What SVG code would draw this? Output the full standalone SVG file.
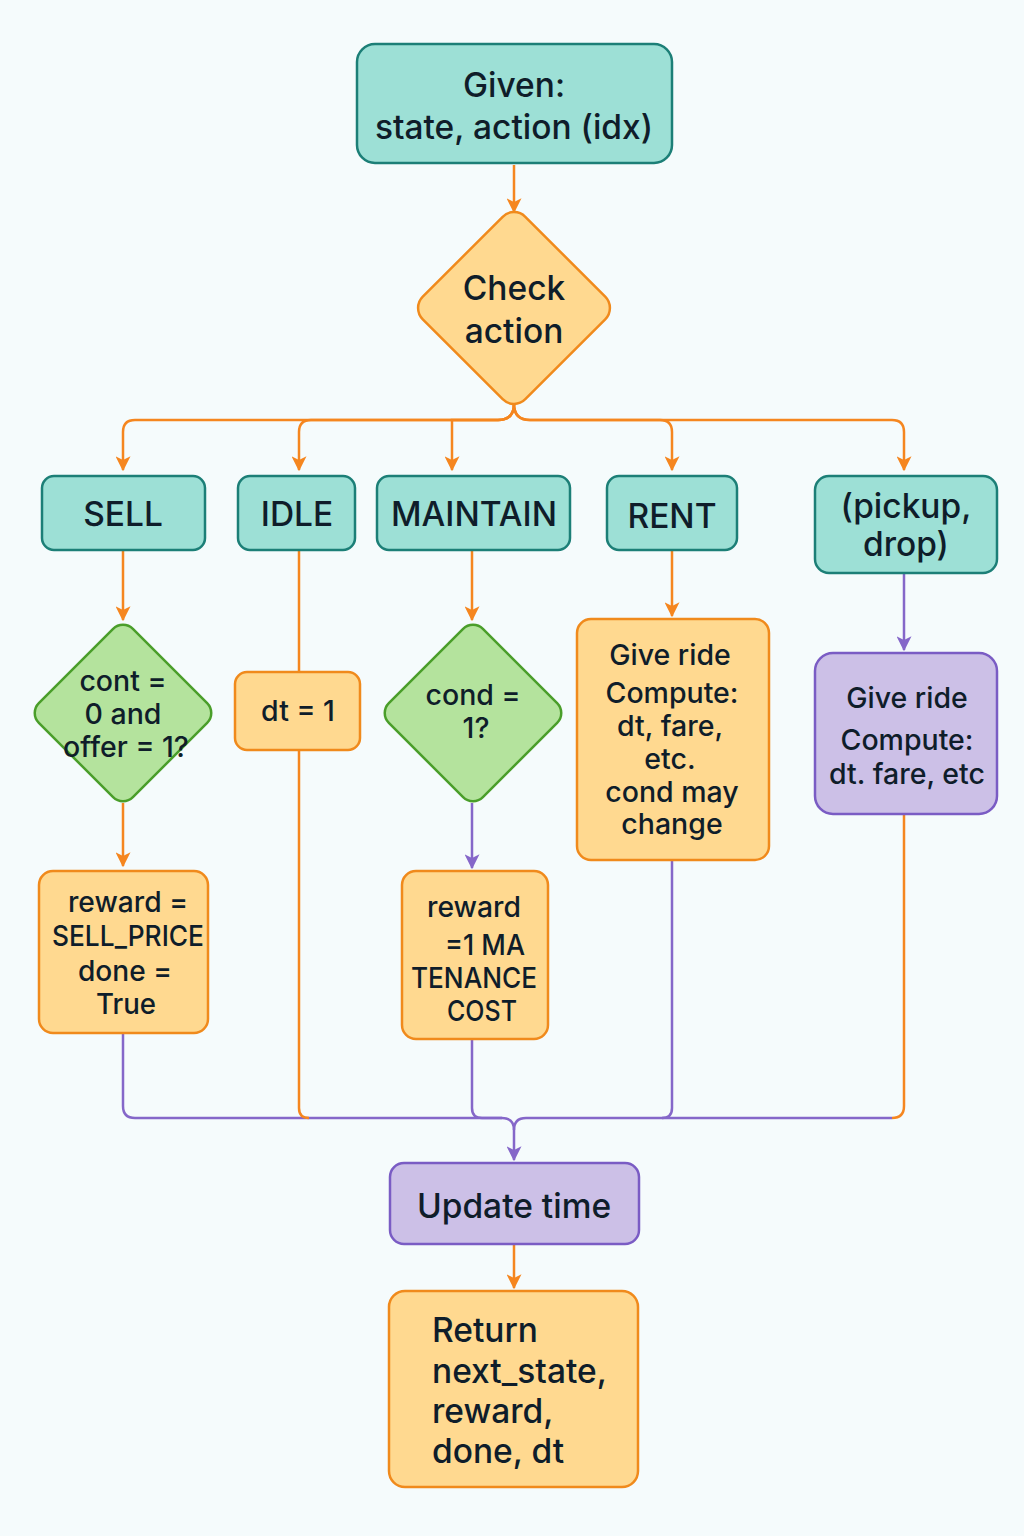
<svg xmlns="http://www.w3.org/2000/svg" width="1024" height="1536" viewBox="0 0 1024 1536">
<defs>
<style>
text{font-family:Inter,"Noto Sans","Liberation Sans",sans-serif;font-weight:500;fill:#0f1d2a;text-anchor:middle}
.teal{fill:#9de0d6;stroke:#1c7f77;stroke-width:2.5}
.org{fill:#ffd990;stroke:#f08a1c;stroke-width:2.5}
.grn{fill:#b4e39d;stroke:#4a9e2a;stroke-width:2.5}
.pur{fill:#ccc0e7;stroke:#7a5cc4;stroke-width:2.5}
.co{fill:none;stroke:#f5861f;stroke-width:2.5}
.cp{fill:none;stroke:#8567c9;stroke-width:2.5}
.big{font-size:33.5px}
.mid{font-size:28.5px}
</style>
<marker id="ao" viewBox="0 0 12 12" refX="11" refY="6" markerWidth="15" markerHeight="15" markerUnits="userSpaceOnUse" orient="auto">
<path d="M0,0 L12,6 L0,12 L3,6 z" fill="#f5861f"/>
</marker>
<marker id="ap" viewBox="0 0 12 12" refX="11" refY="6" markerWidth="15" markerHeight="15" markerUnits="userSpaceOnUse" orient="auto">
<path d="M0,0 L12,6 L0,12 L3,6 z" fill="#8567c9"/>
</marker>
</defs>
<rect width="1024" height="1536" fill="#f5fbfc"/>

<g id="connectors">
<path class="co" d="M514,165 V212" marker-end="url(#ao)"/>
<path class="co" d="M514,404 Q514,420 498,420 H135 Q123,420 123,432 V470" marker-end="url(#ao)"/>
<path class="co" d="M514,404 Q514,420 498,420 H311 Q299,420 299,432 V470" marker-end="url(#ao)"/>
<path class="co" d="M514,404 Q514,420 498,420 H452 V470" marker-end="url(#ao)"/>
<path class="co" d="M514,404 Q514,420 530,420 H660 Q672,420 672,432 V470" marker-end="url(#ao)"/>
<path class="co" d="M514,404 Q514,420 530,420 H892 Q904,420 904,432 V470" marker-end="url(#ao)"/>
<path class="co" d="M123,550 V620" marker-end="url(#ao)"/>
<path class="co" d="M123,803 V866" marker-end="url(#ao)"/>
<path class="co" d="M299,550 V672"/>
<path class="co" d="M472,550 V620" marker-end="url(#ao)"/>
<path class="cp" d="M472,803 V868" marker-end="url(#ap)"/>
<path class="co" d="M672,550 V616" marker-end="url(#ao)"/>
<path class="cp" d="M904,573 V650" marker-end="url(#ap)"/>
<path class="cp" d="M123,1033 V1106 Q123,1118 135,1118 H502 Q514,1118 514,1130 V1160" marker-end="url(#ap)"/>
<path class="co" d="M299,750 V1108 Q299,1118 309,1118"/>
<path class="cp" d="M472,1039 V1108 Q472,1118 482,1118 H502"/>
<path class="cp" d="M672,860 V1108 Q672,1118 662,1118 H526 Q514,1118 514,1130"/>
<path class="co" d="M904,814 V1106 Q904,1118 892,1118"/>
<path class="cp" d="M892,1118 H662"/>
<path class="co" d="M514,1244 V1288" marker-end="url(#ao)"/>
</g>

<g id="given">
<rect class="teal" x="357" y="44" width="315" height="119" rx="18"/>
<text class="big" x="514" y="97">Given:</text>
<text class="big" x="514" y="139">state, action (idx)</text>
</g>

<g id="check">
<rect class="org" x="441.5" y="235.5" width="145" height="145" rx="16" transform="rotate(45 514 308)"/>
<text class="big" x="514" y="300">Check</text>
<text class="big" x="514" y="343">action</text>
</g>

<g id="sell">
<rect class="teal" x="42" y="476" width="163" height="74" rx="12"/>
<text class="big" x="123" y="526">SELL</text>
</g>
<g id="idle">
<rect class="teal" x="238" y="476" width="117" height="74" rx="12"/>
<text class="big" x="297" y="526">IDLE</text>
</g>
<g id="maintain">
<rect class="teal" x="377" y="476" width="193" height="74" rx="12"/>
<text class="big" x="474" y="526">MAINTAIN</text>
</g>
<g id="rent">
<rect class="teal" x="607" y="476" width="130" height="74" rx="12"/>
<text class="big" x="672" y="528">RENT</text>
</g>
<g id="pickup">
<rect class="teal" x="815" y="476" width="182" height="97" rx="14"/>
<text class="big" x="906" y="518">(pickup,</text>
<text class="big" x="906" y="556">drop)</text>
</g>

<g id="cont">
<rect class="grn" x="56.5" y="646.5" width="133" height="133" rx="14" transform="rotate(45 123 713)"/>
<text class="mid" x="123" y="691">cont =</text>
<text class="mid" x="123" y="724">0 and</text>
<text class="mid" x="126" y="757">offer = 1?</text>
</g>

<g id="dt">
<rect class="org" x="235" y="672" width="125" height="78" rx="12"/>
<text class="mid" x="298" y="721">dt  = 1</text>
</g>

<g id="cond">
<rect class="grn" x="406.5" y="646.5" width="133" height="133" rx="14" transform="rotate(45 473 713)"/>
<text class="mid" x="473" y="705">cond =</text>
<text class="mid" x="476" y="738">1?</text>
</g>

<g id="rentbox">
<rect class="org" x="577" y="619" width="192" height="241" rx="14"/>
<text class="mid" x="670" y="665">Give ride</text>
<text class="mid" x="672" y="703">Compute:</text>
<text class="mid" x="670" y="736">dt, fare,</text>
<text class="mid" x="670" y="769">etc.</text>
<text class="mid" x="672" y="802">cond may</text>
<text class="mid" x="672" y="834">change</text>
</g>

<g id="ridebox">
<rect class="pur" x="815" y="653" width="182" height="161" rx="18"/>
<text class="mid" x="907" y="708">Give ride</text>
<text class="mid" x="907" y="750">Compute:</text>
<text class="mid" x="907" y="784">dt. fare, etc</text>
</g>

<g id="sellreward">
<rect class="org" x="39" y="871" width="169" height="162" rx="14"/>
<text class="mid" x="128" y="912" textLength="120" lengthAdjust="spacingAndGlyphs">reward =</text>
<text class="mid" x="128" y="946" textLength="152" lengthAdjust="spacingAndGlyphs">SELL_PRICE</text>
<text class="mid" x="125" y="981" textLength="94" lengthAdjust="spacingAndGlyphs">done =</text>
<text class="mid" x="126" y="1014" textLength="60" lengthAdjust="spacingAndGlyphs">True</text>
</g>

<g id="maintreward">
<rect class="org" x="402" y="871" width="146" height="168" rx="14"/>
<text class="mid" x="474" y="917" textLength="94" lengthAdjust="spacingAndGlyphs">reward</text>
<text class="mid" x="485" y="955" textLength="80" lengthAdjust="spacingAndGlyphs">=1 MA</text>
<text class="mid" x="474" y="988" textLength="126" lengthAdjust="spacingAndGlyphs">TENANCE</text>
<text class="mid" x="482" y="1021" textLength="70" lengthAdjust="spacingAndGlyphs">COST</text>
</g>

<g id="update">
<rect class="pur" x="390" y="1163" width="249" height="81" rx="14"/>
<text class="big" x="514" y="1218">Update time</text>
</g>

<g id="return">
<rect class="org" x="389" y="1291" width="249" height="196" rx="16"/>
<text class="big" x="432" y="1342" style="text-anchor:start">Return</text>
<text class="big" x="432" y="1383" style="text-anchor:start">next_state,</text>
<text class="big" x="432" y="1423" style="text-anchor:start">reward,</text>
<text class="big" x="432" y="1463" style="text-anchor:start">done, dt</text>
</g>
</svg>
